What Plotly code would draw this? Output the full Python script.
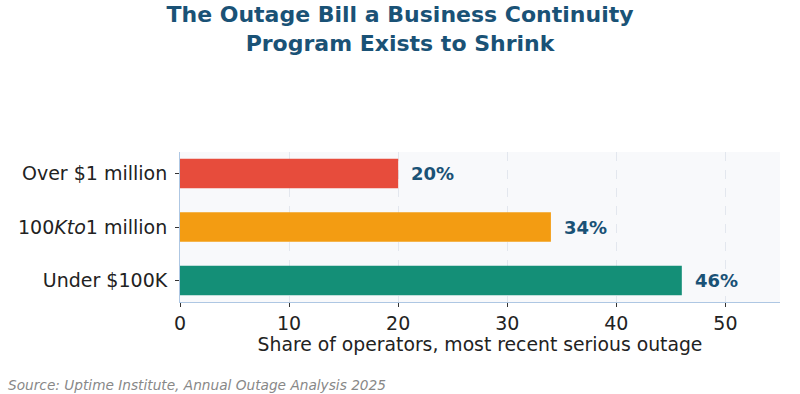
import plotly.graph_objects as go

categories = ["Under $100K", "100<i>Kto</i>1 million", "Over $1 million"]
values = [46, 34, 20]
colors = ["#148f77", "#f39c12", "#e74c3c"]
value_labels = ["46%", "34%", "20%"]

title_color = "#1a5276"
font_family = "DejaVu Sans"

fig = go.Figure()
fig.add_trace(go.Bar(
    y=list(range(len(categories))),
    x=values,
    orientation="h",
    width=0.55,
    marker=dict(color=colors, line=dict(width=0)),
    showlegend=False,
    hoverinfo="skip",
))

for i, (v, lab) in enumerate(zip(values, value_labels)):
    fig.add_annotation(
        x=v + 1, y=i, text=f"<b>{lab}</b>", showarrow=False,
        xanchor="left", yanchor="middle",
        font=dict(family=font_family, size=18, color=title_color),
    )

fig.add_annotation(
    x=-0.29, y=-0.553, xref="paper", yref="paper", xanchor="left", yanchor="middle",
    text="<i>Source: Uptime Institute, Annual Outage Analysis 2025</i>",
    showarrow=False, font=dict(family=font_family, size=13.7, color="#888888"),
)

fig.update_layout(
    width=800, height=394,
    margin=dict(l=180, r=20, t=152, b=92),
    paper_bgcolor="white",
    plot_bgcolor="#f8f9fb",
    font=dict(family=font_family, size=19, color="#222222"),
    title=dict(
        text="<b>The Outage Bill a Business Continuity<br>Program Exists to Shrink</b>",
        x=0.5, xanchor="center", y=0.943, yanchor="top",
        font=dict(family=font_family, size=22, color=title_color),
    ),
)

fig.update_xaxes(
    range=[0, 55], tickvals=[0, 10, 20, 30, 40, 50],
    showgrid=True, gridcolor="#e3e7ee", griddash="dash", gridwidth=1,
    zeroline=False, showline=True, linecolor="#aec7e3", linewidth=1,
    ticks="outside", ticklen=4, tickcolor="#333333",
    tickfont=dict(size=19, color="#222222"),
    title=dict(text="Share of operators, most recent serious outage", font=dict(size=18.8, color="#222222"), standoff=4),
)
fig.update_yaxes(
    range=[-0.4025, 2.4025],
    tickvals=list(range(len(categories))), ticktext=categories,
    showgrid=False, zeroline=False, showline=True, linecolor="#aec7e3", linewidth=1,
    ticks="outside", ticklen=4, tickcolor="#333333", ticklabelstandoff=4,
    tickfont=dict(size=19, color="#222222"),
)

fig.write_html("out.html")
